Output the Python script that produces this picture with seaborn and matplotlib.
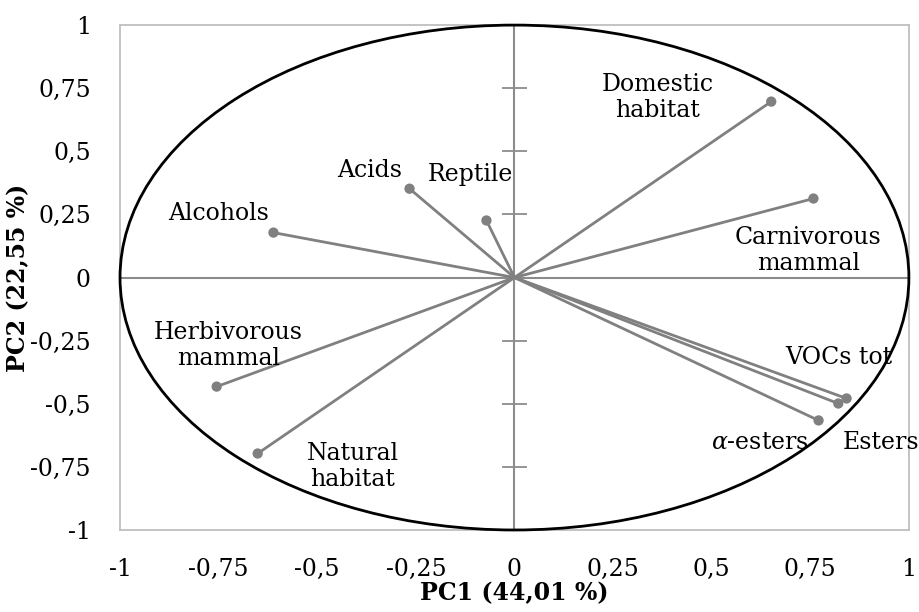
import matplotlib
matplotlib.use("Agg")
import matplotlib.pyplot as plt
from matplotlib.patches import Circle
from matplotlib.ticker import FuncFormatter, NullFormatter
import pandas as pd
import seaborn as sns

# loadings
variables = ["Domestic\nhabitat", "Carnivorous\nmammal", "Reptile", "Acids", "Alcohols",
             "Herbivorous\nmammal", "Natural\nhabitat", "VOCs tot", "Esters", r"$\alpha$-esters"]
pc1 = [0.651, 0.758, -0.071, -0.266, -0.611, -0.755, -0.651, 0.842, 0.821, 0.771]
pc2 = [0.697, 0.313, 0.226, 0.352, 0.178, -0.432, -0.697, -0.479, -0.499, -0.566]
ticks = [-1, -0.75, -0.5, -0.25, 0, 0.25, 0.5, 0.75, 1]

# label offsets in pixels (layout only)
label_offsets = [(-114, 4), (-5, -52), (-16, 46), (-40, 18), (-55, 19),
                 (12, 41), (95, -13), (-8, 41), (43, -39), (-59, -22)]

df = pd.DataFrame({"var": variables, "pc1": pc1, "pc2": pc2})

sns.set_theme(style="white")
plt.rcParams["font.family"] = ["DejaVu Serif"]
plt.rcParams["mathtext.fontset"] = "dejavuserif"

fig = plt.figure(figsize=(9.19, 6.12), dpi=100)
ax = fig.add_axes([0.1306, 0.134, 0.8584, 0.825])

gray = "#808080"
for x, y in zip(df.pc1, df.pc2):
    ax.plot([0, x], [0, y], color=gray, lw=2, zorder=2)
sns.scatterplot(data=df, x="pc1", y="pc2", ax=ax, color=gray, s=55,
                edgecolor="none", zorder=3, legend=False)

for (name, x, y), (dx, dy) in zip(df[["var", "pc1", "pc2"]].values, label_offsets):
    ax.annotate(name, (x, y), xytext=(dx, dy), textcoords="offset pixels",
                ha="center", va="center", fontsize=17, color="black",
                linespacing=1.2, zorder=4)

ax.add_patch(Circle((0, 0), 1, fill=False, ec="black", lw=2, clip_on=False, zorder=5))

ax.axhline(0, color="#8c8c8c", lw=1.5, zorder=1)
ax.axvline(0, color="#8c8c8c", lw=1.5, zorder=1)

ax.set_xlim(-1, 1)
ax.set_ylim(-1, 1)
ax.set_xticks(ticks)
ax.set_yticks(ticks)
fmt = FuncFormatter(lambda v, p: ("%g" % v).replace(".", ","))
ax.xaxis.set_major_formatter(fmt)
ax.yaxis.set_major_formatter(fmt)
ax.tick_params(axis="x", length=0, pad=20, labelsize=17, labelcolor="black")
ax.tick_params(axis="y", length=0, pad=21, labelsize=17, labelcolor="black")
for s in ax.spines.values():
    s.set_color("#bfbfbf")
    s.set_linewidth(1.3)

# tick marks crossing the vertical zero line
sec = ax.secondary_yaxis(0.5)
sec.set_yticks([t for t in ticks if t not in (-1, 0, 1)])
sec.yaxis.set_major_formatter(NullFormatter())
sec.tick_params(direction="inout", length=18, width=1.3, color="#8c8c8c",
                labelleft=False, labelright=False)
for s in sec.spines.values():
    s.set_visible(False)

ax.set_xlabel("PC1 (44,01 %)", fontsize=17, fontweight="bold", labelpad=0, color="black")
ax.set_ylabel("PC2 (22,55 %)", fontsize=17, fontweight="bold", labelpad=0, color="black")

fig.savefig("out.png", dpi=100)
